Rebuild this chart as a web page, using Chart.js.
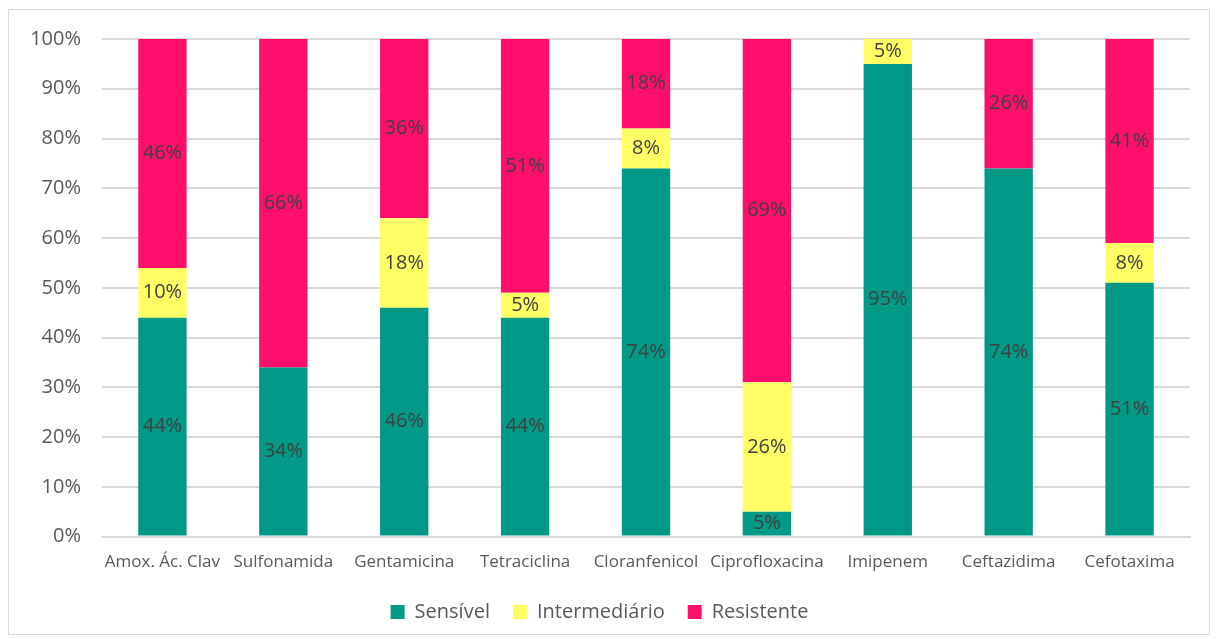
<!DOCTYPE html>
<html lang="pt">
<head>
  <meta charset="UTF-8" />
  <title>Perfil de sensibilidade</title>
  <script src="https://cdn.jsdelivr.net/npm/chart.js"></script>
  <style>
    body { margin: 0; background: #fff; font-family: 'Open Sans', sans-serif; }
    .frame {
      position: absolute;
      left: 8px; top: 9px;
      width: 1200px; height: 624px;
      border: 1px solid #d9d9d9;
      background: #fff;
    }
    canvas { display: block; }
  </style>
</head>
<body>
  <div class="frame">
    <canvas id="chart" width="1200" height="624"></canvas>
  </div>

  <script>
    const categories = ['Amox. Ác. Clav', 'Sulfonamida', 'Gentamicina', 'Tetraciclina', 'Cloranfenicol',
                        'Ciprofloxacina', 'Imipenem', 'Ceftazidima', 'Cefotaxima'];
    const sensivel      = [44, 34, 46, 44, 74, 5, 95, 74, 51];
    const intermediario = [10, 0, 18, 5, 8, 26, 5, 0, 8];
    const resistente    = [46, 66, 36, 51, 18, 69, 0, 26, 41];
    const yTicks = [0, 10, 20, 30, 40, 50, 60, 70, 80, 90, 100];

    const FONT = 'Open Sans';

    // simple in-bar value labels (no datalabels plugin available)
    const barLabels = {
      id: 'barLabels',
      afterDatasetsDraw(chart) {
        const ctx = chart.ctx;
        ctx.save();
        ctx.font = '20px ' + FONT;
        ctx.fillStyle = '#404040';
        ctx.textAlign = 'center';
        ctx.textBaseline = 'middle';
        chart.data.datasets.forEach((ds, i) => {
          chart.getDatasetMeta(i).data.forEach((bar, j) => {
            const v = ds.data[j];
            if (!v) return;
            const y = (bar.y + bar.base) / 2;
            ctx.fillText(v + '%', bar.x, y);
          });
        });
        ctx.restore();
      }
    };

    new Chart(document.getElementById('chart'), {
      type: 'bar',
      data: {
        labels: categories,
        datasets: [
          { label: 'Sensível', data: sensivel, backgroundColor: '#009985' },
          { label: 'Intermediário', data: intermediario, backgroundColor: '#FFFF66' },
          { label: 'Resistente', data: resistente, backgroundColor: '#FF0F6C' }
        ]
      },
      options: {
        responsive: false,
        animation: false,
        datasets: { bar: { categoryPercentage: 1, barPercentage: 0.4 } },
        layout: { padding: { top: 29, right: 19, bottom: 2, left: 0 } },
        plugins: {
          legend: {
            position: 'bottom',
            labels: {
              font: { family: FONT, size: 20 },
              color: '#595959',
              boxWidth: 14,
              boxHeight: 14,
              padding: 23
            }
          },
          tooltip: { enabled: false }
        },
        scales: {
          x: {
            stacked: true,
            grid: { display: false },
            border: { color: '#d9d9d9', width: 2 },
            ticks: { font: { family: FONT, size: 17 }, color: '#595959', padding: 7, maxRotation: 0 }
          },
          y: {
            stacked: true,
            min: 0,
            max: 100,
            afterBuildTicks(scale) { scale.ticks = yTicks.map(v => ({ value: v })); },
            afterFit(scale) {
              scale.width = 93;
              // tick padding is only meant horizontally here
              scale.paddingTop = 0;
              scale.paddingBottom = 0;
            },
            grid: { color: '#d9d9d9', lineWidth: 2, drawTicks: false },
            border: { display: false },
            ticks: {
              font: { family: FONT, size: 20 },
              color: '#595959',
              padding: 21,
              callback: v => v + '%'
            }
          }
        }
      },
      plugins: [barLabels]
    });
  </script>
</body>
</html>
